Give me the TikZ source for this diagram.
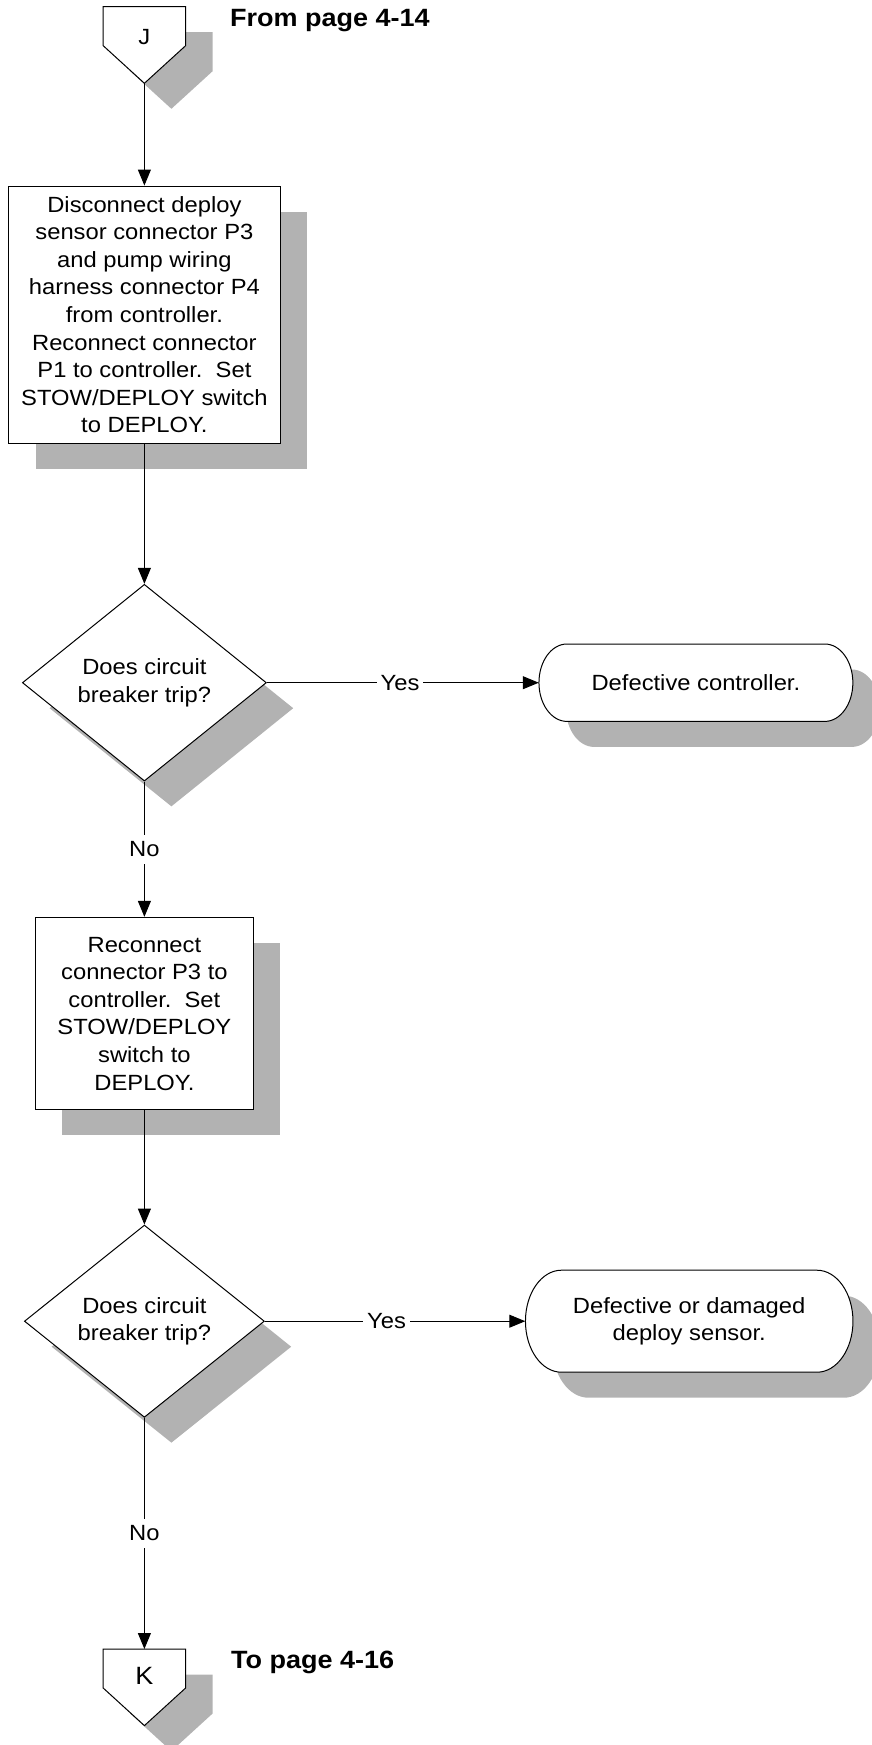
\documentclass[tikz,border=0pt]{standalone}
\usepackage{fontspec}
\setmainfont{Liberation Sans}[FakeStretch=1.08]
\usetikzlibrary{arrows.meta,shapes.geometric,shadows}
\definecolor{shadowgray}{RGB}{178,178,178}
\newcommand{\bodyfont}{\fontsize{22}{27.6}\selectfont}
\tikzset{
  outline/.style={draw=black, line width=1pt},
  dropgray/.style={drop shadow={shadow xshift=27pt, shadow yshift=-25.5pt, fill=shadowgray, opacity=1}},
  procbox/.style={outline, fill=white, dropgray, rectangle, align=center, inner sep=0pt, font=\bodyfont},
  decision/.style={outline, fill=white, dropgray, diamond, aspect=1.25, align=center, inner sep=0pt, font=\bodyfont},
  flowarrow/.style={line width=1pt, -{Triangle[length=16pt,width=13pt]}},
  linelabel/.style={fill=white, inner xsep=4pt, inner ysep=7pt, font=\bodyfont},
  headtext/.style={inner sep=0pt, anchor=base west, font=\fontsize{25}{29}\selectfont\bfseries},
  termtext/.style={align=center, inner sep=0pt, font=\bodyfont}
}
\newcommand{\OffPage}[6]{%
  % #1 name, #2 x, #3 y of top edge, #4 letter, #5 letter size, #6 letter y offset
  \begin{scope}[shift={(#2,#3)}]
    % Shadow and outline
    \fill[shadowgray, shift={(27,-25.5)}] (-41.2,0) -- (41.2,0) -- (41.2,-39) -- (0,-76.6) -- (-41.2,-39) -- cycle;
    \draw[outline, fill=white] (-41.2,0) -- (41.2,0) -- (41.2,-39) -- (0,-76.6) -- (-41.2,-39) -- cycle;
    \coordinate (#1top) at (0,0);
    \coordinate (#1tip) at (0,-76.6);
    \node[inner sep=0pt, font=\fontsize{#5}{#5}\selectfont] (#1) at (0,#6) {#4};
  \end{scope}
}
\newcommand{\Terminal}[7]{%
  % #1 name, #2 x, #3 y, #4 half width, #5 half height, #6 end radius, #7 text
  \begin{scope}[shift={(#2,#3)}]
    % Shadow
    \fill[shadowgray, shift={(27,-25.5)}] ({-#4+#6},#5) -- ({#4-#6},#5)
      arc[start angle=90, end angle=-90, x radius=#6, y radius=#5] -- ({-#4+#6},-#5)
      arc[start angle=270, end angle=90, x radius=#6, y radius=#5] -- cycle;
    % Outline
    \draw[outline, fill=white] ({-#4+#6},#5) -- ({#4-#6},#5)
      arc[start angle=90, end angle=-90, x radius=#6, y radius=#5] -- ({-#4+#6},-#5)
      arc[start angle=270, end angle=90, x radius=#6, y radius=#5] -- cycle;
    \node[termtext, minimum width={2*#4pt}, minimum height={2*#5pt}] (#1) at (0,0) {#7};
  \end{scope}
}

\begin{document}
\begin{tikzpicture}[x=1pt,y=1pt]
  \useasboundingbox (0,0) rectangle (872,-1745);

  % =======================
  % Entry and first step
  % =======================
  \OffPage{J}{144.4}{-6.7}{J}{22}{-30.3}
  \node[headtext] (fromlabel) at (230,-26.7) {From page 4-14};
  \node[procbox, minimum width=271.7pt, minimum height=257.3pt] (disconnect) at (144.4,-314.7)
    {Disconnect deploy\\sensor connector P3\\and pump wiring\\harness connector P4\\from controller.\\Reconnect connector\\P1 to controller.~~Set\\STOW/DEPLOY switch\\to DEPLOY.};

  % =======================
  % First check
  % =======================
  \node[decision, minimum width=244pt, minimum height=196.7pt] (trip1) at (144.4,-682.7)
    {Does circuit\\breaker trip?};
  \Terminal{ctrlbad}{695.9}{-682.7}{156.95}{38.7}{28}{Defective controller.}

  % =======================
  % Second step and check
  % =======================
  \node[procbox, minimum width=218pt, minimum height=192.5pt] (reconnect) at (144.4,-1013.6)
    {Reconnect\\connector P3 to\\controller.~~Set\\STOW/DEPLOY\\switch to\\DEPLOY.};
  \node[decision, minimum width=240pt, minimum height=192.3pt] (trip2) at (144.4,-1321.2)
    {Does circuit\\breaker trip?};
  \Terminal{sensorbad}{689.2}{-1321.2}{163.75}{51}{36}{Defective or damaged\\deploy sensor.}

  % =======================
  % Exit
  % =======================
  \OffPage{K}{144.4}{-1649}{K}{25}{-27}
  \node[headtext] (tolabel) at (231,-1668.3) {To page 4-16};

  % Connectors
  \draw[flowarrow] (Jtip) -- (disconnect.north);
  \draw[flowarrow] (disconnect.south) -- (trip1.north);
  \draw[flowarrow] (trip1.east) -- node[linelabel, pos=0.49] (yes1) {Yes} (ctrlbad.west);
  \draw[flowarrow] (trip1.south) -- node[linelabel] (no1) {No} (reconnect.north);
  \draw[flowarrow] (reconnect.south) -- (trip2.north);
  \draw[flowarrow] (trip2.east) -- node[linelabel, pos=0.467] (yes2) {Yes} (sensorbad.west);
  \draw[flowarrow] (trip2.south) -- node[linelabel] (no2) {No} (Ktop);

\end{tikzpicture}
\end{document}
